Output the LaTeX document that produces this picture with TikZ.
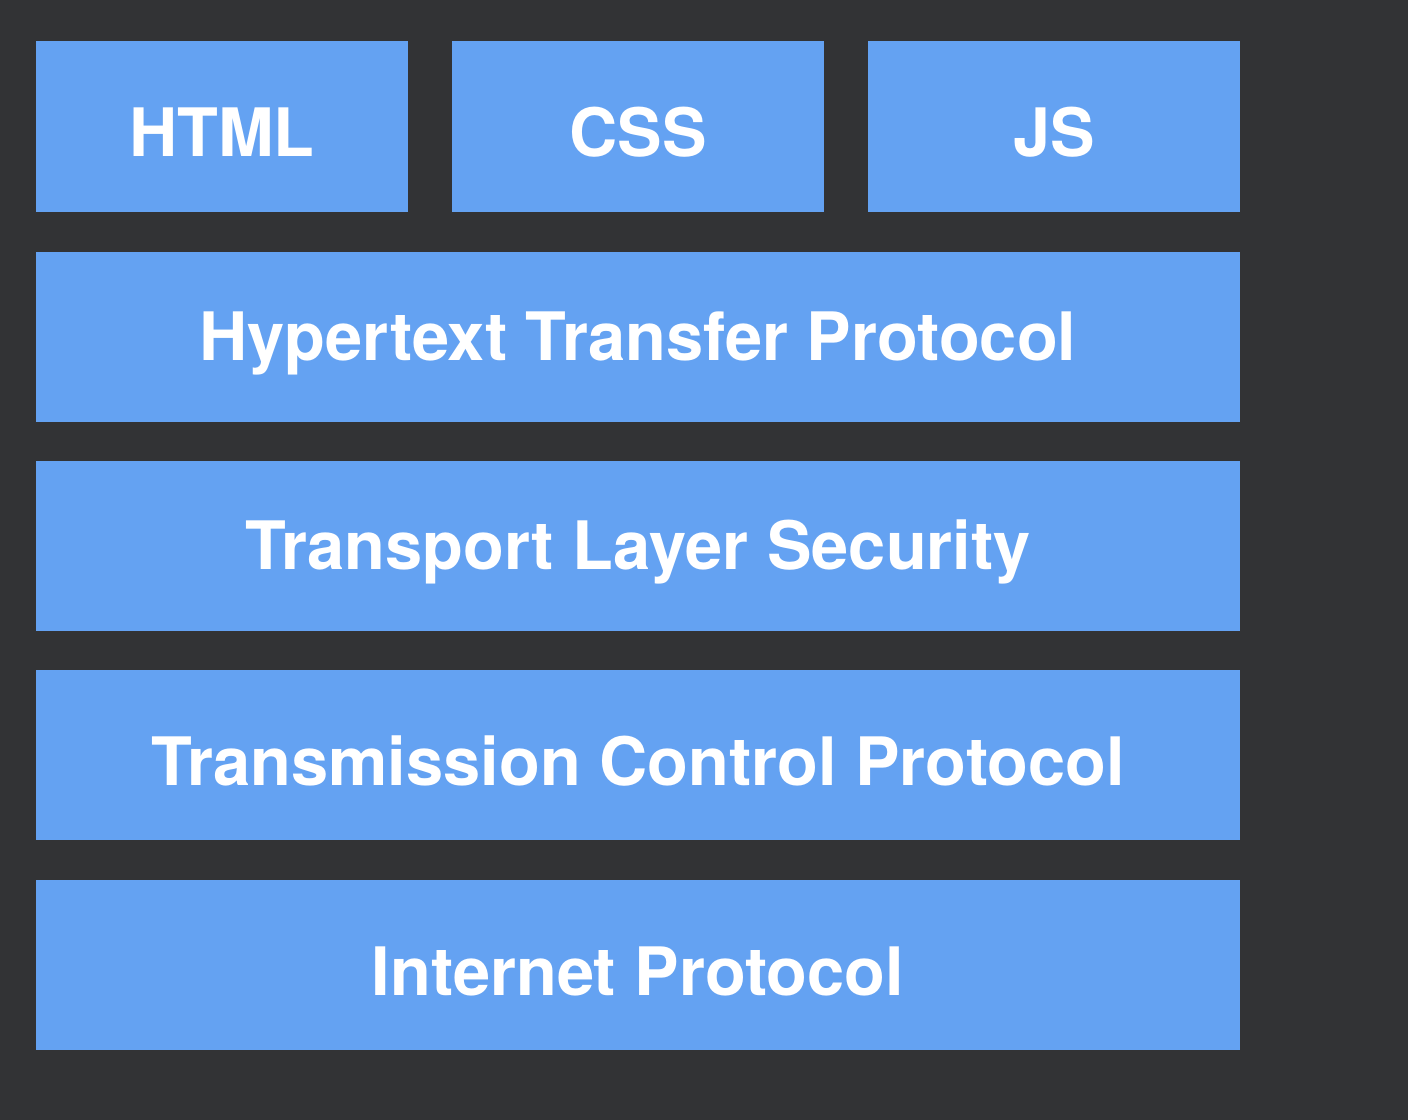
\documentclass[tikz,border=0pt]{standalone}
\usepackage{fontspec}
\setmainfont{TeX Gyre Heros}
\usepackage{tikz}
\definecolor{bgdark}{HTML}{323335}
\definecolor{layerblue}{HTML}{64A2F2}
\tikzset{layer/.style={fill=layerblue, draw=none},
  layertext/.style={text=white, yshift=-0.06cm, font=\fontsize{19}{23}\selectfont\bfseries}}
\begin{document}
\begin{tikzpicture}
    \fill[bgdark] (0,0) rectangle (14.08,11.20);
    \draw[layer] (0.36,9.08) rectangle (4.08,10.79) node[pos=.5, layertext] (html) {HTML};
    \draw[layer] (4.52,9.08) rectangle (8.24,10.79) node[pos=.5, layertext] (css) {CSS};
    \draw[layer] (8.68,9.08) rectangle (12.40,10.79) node[pos=.5, layertext] (js) {JS};
    \draw[layer] (0.36,6.98) rectangle (12.40,8.68) node[pos=.5, layertext] (http) {Hypertext Transfer Protocol};
    \draw[layer] (0.36,4.89) rectangle (12.40,6.59) node[pos=.5, layertext] (tls) {Transport Layer Security};
    \draw[layer] (0.36,2.80) rectangle (12.40,4.50) node[pos=.5, layertext] (tcp) {Transmission Control Protocol};
    \draw[layer] (0.36,0.70) rectangle (12.40,2.40) node[pos=.5, layertext] (ip) {Internet Protocol};
\end{tikzpicture}
\end{document}
